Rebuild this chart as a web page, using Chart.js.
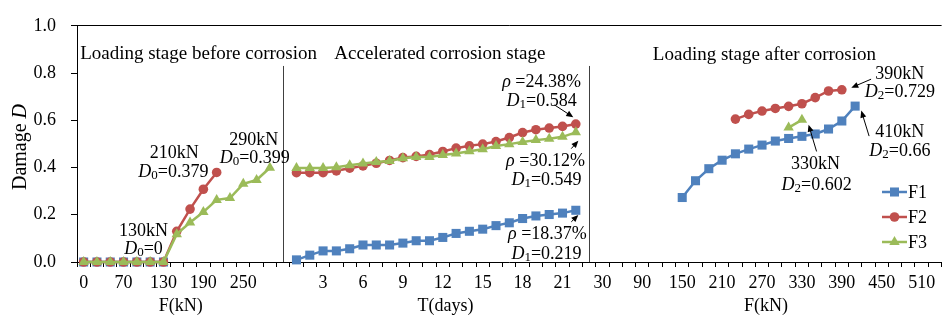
<!DOCTYPE html>
<html><head><meta charset="utf-8">
<script src="https://cdn.jsdelivr.net/npm/chart.js@4/dist/chart.umd.min.js"></script>
<style>html,body{margin:0;padding:0;background:#fff;}canvas{display:block;}</style>
</head><body>
<canvas id="c" width="948" height="322"></canvas>
<script>
// ---------- categories (x axis) ----------
const loadBefore = ['0','30','50','70','90','110','130','150','170','190','210','230','250','270','290'];
const corrosionDays = ['1','2','3','4','5','6','7','8','9','10','11','12','13','14','15','16','17','18','19','20','21','22'];
const loadAfter = ['30','50','70','90','110','130','150','170','190','210','230','250','270','290','310','330','350','370','390','410','430','450','470','490','510','530'];
const categories = [...loadBefore, '', ...corrosionDays, '', ...loadAfter];
const labelEvery = 3;

// ---------- series values (damage D) ----------
const F1_before = [0,0,0,0,0,0,0,null,null,null,null,null,null,null,null];
const F2_before = [0,0,0,0,0,0,0,0.130,0.224,0.308,0.379,null,null,null,null];
const F3_before = [0,0,0,0,0,0,0,0.118,0.167,0.212,0.263,0.271,0.331,0.347,0.399];

const F1_corr = [0.009,0.029,0.047,0.047,0.056,0.072,0.072,0.072,0.080,0.090,0.090,0.104,0.121,0.130,0.139,0.154,0.166,0.184,0.195,0.201,0.207,0.219];
const F2_corr = [0.378,0.378,0.378,0.386,0.397,0.407,0.418,0.430,0.442,0.447,0.455,0.468,0.482,0.492,0.499,0.510,0.527,0.548,0.560,0.567,0.574,0.584];
const F3_corr = [0.398,0.398,0.398,0.401,0.410,0.417,0.423,0.428,0.439,0.445,0.445,0.453,0.459,0.469,0.477,0.491,0.499,0.508,0.516,0.522,0.530,0.549];

const F1_after = [null,null,null,null,null,null,0.273,0.344,0.395,0.431,0.458,0.478,0.495,0.512,0.523,0.532,0.542,0.563,0.597,0.660,null,null,null,null,null,null];
const F2_after = [null,null,null,null,null,null,null,null,null,null,0.605,0.625,0.639,0.650,0.659,0.670,0.696,0.724,0.729,null,null,null,null,null,null,null];
const F3_after = [null,null,null,null,null,null,null,null,null,null,null,null,null,null,0.569,0.602,null,null,null,null,null,null,null,null,null,null];

const F1 = [...F1_before, null, ...F1_corr, null, ...F1_after];
const F2 = [...F2_before, null, ...F2_corr, null, ...F2_after];
const F3 = [...F3_before, null, ...F3_corr, null, ...F3_after];

// y ticks
const yMin = 0, yMax = 1, yStep = 0.2;

// ---------- text annotations (x in category index, y in D) ----------
const FONT = "'Liberation Serif','Times New Roman',serif";
const stageTitles = [
  {text:'Loading stage before corrosion', x:8.64, y:0.887},
  {text:'Accelerated corrosion stage', x:26.78, y:0.887},
  {text:'Loading stage after corrosion', x:51.18, y:0.883}
];
const notes = [
  {parts:[['130kN','']], x:4.5, y:0.134},
  {parts:[['D','i'],['0','s'],['=0','']], x:4.5, y:0.058},
  {parts:[['210kN','']], x:6.81, y:0.464},
  {parts:[['D','i'],['0','s'],['=0.379','']], x:6.74, y:0.384},
  {parts:[['290kN','']], x:12.78, y:0.521},
  {parts:[['D','i'],['0','s'],['=0.399','']], x:12.86, y:0.444},
  {parts:[['ρ','i'],[' =24.38%','']], x:34.43, y:0.766},
  {parts:[['D','i'],['1','s'],['=0.584','']], x:34.43, y:0.686},
  {parts:[['ρ','i'],[' =30.12%','']], x:34.72, y:0.432},
  {parts:[['D','i'],['1','s'],['=0.549','']], x:34.80, y:0.352},
  {parts:[['ρ','i'],[' =18.37%','']], x:34.87, y:0.122},
  {parts:[['D','i'],['1','s'],['=0.219','']], x:34.80, y:0.037},
  {parts:[['390kN','']], x:61.36, y:0.802},
  {parts:[['D','i'],['2','s'],['=0.729','']], x:61.36, y:0.722},
  {parts:[['410kN','']], x:61.36, y:0.553},
  {parts:[['D','i'],['2','s'],['=0.66','']], x:61.36, y:0.473},
  {parts:[['330kN','']], x:55.02, y:0.420},
  {parts:[['D','i'],['2','s'],['=0.602','']], x:55.10, y:0.331}
];
const arrows = [
  {from:[35.40,0.665], to:[36.81,0.613]},
  {from:[36.66,0.480], to:[37.19,0.513]},
  {from:[36.66,0.170], to:[37.19,0.199]},
  {from:[59.20,0.774], to:[57.71,0.738]},
  {from:[59.05,0.533], to:[58.46,0.641]},
  {from:[55.10,0.468], to:[54.50,0.581]}
];
const axisTitles = [
  {text:'F(kN)', x:7.3},
  {text:'T(days)', x:27.2},
  {text:'F(kN)', x:51.3}
];
const dividerTop = 0.83;

function drawRich(ctx, parts, cx, cy, size){
  const segs = parts.map(([t,s]) => {
    const f = (s==='i'?'italic ':'') + (s==='s'? Math.round(size*0.72) : size) + 'px ' + FONT;
    ctx.font = f;
    return {t, s, f, w: ctx.measureText(t).width};
  });
  const total = segs.reduce((a,b)=>a+b.w,0);
  let x = cx - total/2;
  const base = cy + size*0.33;
  ctx.textAlign='left'; ctx.textBaseline='alphabetic';
  segs.forEach(g => { ctx.font = g.f; ctx.fillText(g.t, x, base + (g.s==='s'? size*0.1 : 0)); x += g.w; });
}
function drawArrow(ctx, x1,y1,x2,y2){
  const a = Math.atan2(y2-y1, x2-x1);
  const L = 7, W = 3;
  ctx.beginPath(); ctx.moveTo(x1,y1); ctx.lineTo(x2 - (L-2)*Math.cos(a), y2 - (L-2)*Math.sin(a)); ctx.stroke();
  ctx.beginPath();
  ctx.moveTo(x2,y2);
  ctx.lineTo(x2 - L*Math.cos(a) + W*Math.sin(a), y2 - L*Math.sin(a) - W*Math.cos(a));
  ctx.lineTo(x2 - L*Math.cos(a) - W*Math.sin(a), y2 - L*Math.sin(a) + W*Math.cos(a));
  ctx.closePath(); ctx.fill();
}
function drawMarker(ctx, style, r, x, y, color){
  ctx.fillStyle = color; ctx.beginPath();
  if (style === 'rect') { const h = r*Math.SQRT1_2; ctx.rect(x-h, y-h, 2*h, 2*h); }
  else if (style === 'triangle') {
    for (let k=0;k<3;k++){ const ang = k*2*Math.PI/3; const px = x + Math.sin(ang)*r, py = y - Math.cos(ang)*r; k? ctx.lineTo(px,py) : ctx.moveTo(px,py); }
    ctx.closePath();
  } else { ctx.arc(x, y, r, 0, Math.PI*2); }
  ctx.fill();
}

const overlay = {
  id:'overlay',
  afterDraw(chart){
    const ctx = chart.ctx, xs = chart.scales.x, ys = chart.scales.y;
    const px = v => xs.getPixelForValue(v), py = v => ys.getPixelForValue(v);
    ctx.save();
    // section dividers at blank categories
    ctx.strokeStyle = '#404040'; ctx.lineWidth = 1;
    categories.forEach((c,i) => {
      if (c === '') {
        const x = Math.round(px(i)) + 0.5;
        ctx.beginPath(); ctx.moveTo(x, py(dividerTop)); ctx.lineTo(x, py(0)); ctx.stroke();
      }
    });
    ctx.fillStyle = '#000';
    stageTitles.forEach(s => { drawRich(ctx, [[s.text,'']], px(s.x), py(s.y), 19); });
    notes.forEach(n => drawRich(ctx, n.parts, px(n.x), py(n.y), 18));
    ctx.strokeStyle = '#000'; ctx.lineWidth = 1;
    arrows.forEach(a => drawArrow(ctx, px(a.from[0]), py(a.from[1]), px(a.to[0]), py(a.to[1])));
    // axis titles
    ctx.fillStyle = '#000';
    axisTitles.forEach(t => drawRich(ctx, [[t.text,'']], px(t.x), 305, 18));
    // y title
    ctx.save(); ctx.translate(19, 147); ctx.rotate(-Math.PI/2);
    drawRich(ctx, [['Damage ',''],['D','i']], 0, 0, 20);
    ctx.restore();
    // legend
    chart.data.datasets.forEach((ds, i) => {
      const y = 192 + 25*i;
      ctx.strokeStyle = ds.borderColor; ctx.lineWidth = ds.borderWidth;
      ctx.beginPath(); ctx.moveTo(882, y); ctx.lineTo(907, y); ctx.stroke();
      drawMarker(ctx, ds.pointStyle, ds.pointRadius, 894.5, y, ds.pointBackgroundColor);
      ctx.fillStyle = '#000';
      ctx.font = '18px ' + FONT; ctx.textAlign = 'left'; ctx.textBaseline = 'middle';
      ctx.fillText(ds.label, 908, y + 1);
    });
    ctx.restore();
  }
};

const mk = (label, data, color, style, r, order) => ({
  label, data, borderColor: color, backgroundColor: color,
  pointBackgroundColor: color, pointBorderColor: color, pointBorderWidth: 0,
  pointStyle: style, pointRadius: r, borderWidth: 2.5, spanGaps: false,
  clip: false, order, tension: 0
});

new Chart(document.getElementById('c'), {
  type: 'line',
  data: {
    labels: categories,
    datasets: [
      mk('F1', F1, '#4F81BD', 'rect', 6.4, 3),
      mk('F2', F2, '#C0504D', 'circle', 4.8, 2),
      mk('F3', F3, '#9BBB59', 'triangle', 6.0, 1)
    ]
  },
  options: {
    responsive: false, animation: false,
    layout: { padding: { top: 14, right: 0, left: 0, bottom: 0 } },
    plugins: { legend: { display: false }, tooltip: { enabled: false } },
    scales: {
      x: {
        type: 'category', offset: true,
        afterFit(s){ s.height = 60; },
        grid: { offset: true, drawOnChartArea: false, drawTicks: true, tickLength: 5, tickColor: '#000' },
        border: { display: true, color: '#000', width: 1 },
        ticks: {
          autoSkip: false, maxRotation: 0, minRotation: 0, padding: 5,
          color: '#000', font: { family: FONT, size: 18 },
          callback: (v, i) => (i % labelEvery === 0 ? categories[i] : '')
        }
      },
      y: {
        min: yMin, max: yMax,
        afterFit(s){ s.width = 77; },
        grid: { color: c => (c.tick && c.tick.value === yMax ? '#000' : 'rgba(0,0,0,0)'), drawTicks: true, tickLength: 6, tickColor: '#000' },
        border: { display: true, color: '#000', width: 1 },
        ticks: { stepSize: yStep, padding: 15, color: '#000', font: { family: FONT, size: 18 },
          callback: v => Number(v).toFixed(1) }
      }
    }
  },
  plugins: [overlay]
});
</script>
</body></html>
